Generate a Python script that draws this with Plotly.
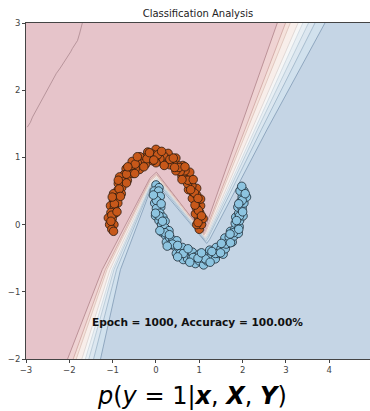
import plotly.graph_objects as go

# ---------------- data ----------------
# class 1 (orange, upper moon)
orange_x = [1.00, 1.05, 0.94, 0.98, 1.09, 1.01, 0.91, 1.03, 0.93, 0.93, 1.03, 0.84, 0.94,
            0.94, 0.84, 0.83, 0.75, 0.81, 0.73, 0.71, 0.78, 0.60, 0.67, 0.62, 0.56, 0.51,
            0.46, 0.46, 0.41, 0.32, 0.36, 0.28, 0.26, 0.16, 0.18, 0.09, 0.09, 0.00, 0.00,
            0.00, -0.09, -0.08, -0.19, -0.17, -0.24, -0.27, -0.37, -0.33, -0.43, -0.38,
            -0.55, -0.48, -0.59, -0.53, -0.69, -0.63, -0.66, -0.74, -0.84, -0.77, -0.79,
            -0.87, -0.88, -0.80, -0.98, -0.88, -0.98, -0.88, -1.05, -0.96, -0.94, -1.04,
            -1.01, -1.10, -0.97, -1.07, -1.02, -0.98,
            0.98, 0.89, 0.74, 0.53, 0.32, 0.04, -0.21, -0.48, -0.68, -0.85, -0.96, -1.02,
            0.97, 1.05, 0.90, 0.97, 0.80, 0.86, 0.60, 0.67, 0.43, 0.40, 0.19, 0.13,
            -0.05, -0.15, -0.28, -0.43, -0.49, -0.65, -0.68, -0.87, -0.82, -1.01, -0.90, -1.04]
orange_y = [-0.07, 0.00, 0.00, 0.09, 0.09, 0.18, 0.16, 0.28, 0.25, 0.34, 0.38, 0.39, 0.44,
            0.54, 0.49, 0.58, 0.52, 0.68, 0.61, 0.71, 0.78, 0.72, 0.80, 0.88, 0.79, 0.88,
            0.80, 0.99, 0.89, 0.89, 0.99, 1.06, 0.97, 0.92, 1.02, 1.08, 0.98, 1.12, 1.01,
            0.92, 1.05, 0.95, 1.08, 0.98, 0.90, 0.99, 1.01, 0.91, 0.92, 0.82,
            0.94, 0.83, 0.84, 0.76, 0.83, 0.75, 0.66, 0.74, 0.71, 0.64, 0.55,
            0.61, 0.51, 0.46, 0.46, 0.41, 0.36, 0.32, 0.28, 0.26, 0.17, 0.18,
            0.09, 0.10, 0.00, 0.00, -0.07, -0.10,
            0.21, 0.47, 0.66, 0.85, 0.97, 1.04, 0.98, 0.90, 0.75, 0.53, 0.31, 0.14,
            0.03, 0.13, 0.29, 0.39, 0.52, 0.67, 0.67, 0.86, 0.85, 0.99, 0.88, 1.09,
            0.96, 1.07, 0.86, 1.01, 0.76, 0.86, 0.62, 0.66, 0.42, 0.41, 0.19, 0.05]

# class 0 (blue, lower moon)
blue_x = [0.00, 0.07, -0.04, 0.06, 0.02, 0.10, -0.03, 0.06, 0.11, 0.01, -0.01, 0.09, 0.16,
          0.07, 0.13, 0.21, 0.13, 0.21, 0.30, 0.22, 0.24, 0.31, 0.39, 0.33, 0.43, 0.48,
          0.47, 0.52, 0.61, 0.56, 0.63, 0.66, 0.75, 0.73, 0.82, 0.84, 0.91, 0.91, 1.00,
          1.00, 1.10, 1.09, 1.17, 1.18, 1.26, 1.24, 1.37, 1.33, 1.39, 1.44, 1.55, 1.50,
          1.55, 1.60, 1.66, 1.59, 1.76, 1.69, 1.72, 1.80, 1.82, 1.90, 1.83, 1.92, 1.93,
          1.84, 2.01, 1.91, 1.89, 1.99, 2.03, 1.94, 1.99, 2.09, 2.03, 1.94, 1.98,
          0.01, 0.07, 0.21, 0.38, 0.63, 0.86, 1.14, 1.37, 1.62, 1.79, 1.93, 1.99,
          -0.06, 0.12, -0.01, 0.15, 0.09, 0.31, 0.26, 0.50, 0.50, 0.74, 0.78, 0.97,
          1.05, 1.25, 1.29, 1.49, 1.51, 1.72, 1.71, 1.91, 1.86, 2.00, 1.91, 2.06]
blue_y = [0.59, 0.55, 0.50, 0.50, 0.41, 0.42, 0.32, 0.33, 0.26, 0.24, 0.13, 0.17, 0.11,
          0.06, 0.00, 0.05, -0.11, -0.05, -0.09, -0.16, -0.26, -0.19, -0.23, -0.30, -0.32,
          -0.24, -0.43, -0.34, -0.34, -0.43, -0.52, -0.43, -0.42, -0.51, -0.50, -0.41,
          -0.58, -0.48, -0.44, -0.54, -0.60, -0.50, -0.45, -0.54, -0.48, -0.38, -0.51,
          -0.41, -0.34, -0.43, -0.44, -0.36, -0.28, -0.36, -0.28, -0.20, -0.26, -0.19,
          -0.10, -0.17, -0.07, -0.13, 0.02, -0.03, 0.06, 0.11, 0.13, 0.17, 0.26, 0.24,
          0.32, 0.33, 0.41, 0.41, 0.50, 0.50, 0.57,
          0.36, 0.13, -0.12, -0.29, -0.43, -0.49, -0.51, -0.43, -0.29, -0.12, 0.13, 0.36,
          0.44, 0.31, 0.17, 0.05, -0.09, -0.15, -0.32, -0.31, -0.48, -0.36, -0.56, -0.50,
          -0.42, -0.56, -0.40, -0.42, -0.28, -0.27, -0.14, -0.07, 0.06, 0.19, 0.31, 0.46]

# decision-surface level lines (red edge -> blue edge)
contour_x = [
    [-2.04, -1.24, -0.14, 0.01, 0.14, 1.06, 1.09, 1.12, 1.94, 2.80],
    [-1.91, -1.17, -0.14, 0.01, 0.15, 1.07, 1.10, 1.14, 2.05, 2.99],
    [-1.84, -1.13, -0.14, 0.02, 0.15, 1.07, 1.11, 1.15, 2.11, 3.10],
    [-1.71, -1.06, -0.14, 0.02, 0.16, 1.08, 1.13, 1.17, 2.21, 3.28],
    [-1.63, -1.01, -0.13, 0.02, 0.17, 1.08, 1.13, 1.18, 2.28, 3.39],
    [-1.55, -0.97, -0.13, 0.02, 0.17, 1.09, 1.14, 1.20, 2.34, 3.52],
    [-1.44, -0.91, -0.13, 0.03, 0.18, 1.09, 1.15, 1.21, 2.43, 3.67],
    [-1.28, -0.82, -0.13, 0.03, 0.19, 1.10, 1.17, 1.24, 2.56, 3.90],
]
contour_y = [
    [-2, -0.67, 0.69, 0.78, 0.67, -0.08, -0.12, -0.08, 1.41, 3],
    [-2, -0.67, 0.66, 0.75, 0.64, -0.10, -0.15, -0.10, 1.41, 3],
    [-2, -0.67, 0.64, 0.73, 0.62, -0.12, -0.16, -0.12, 1.41, 3],
    [-2, -0.67, 0.61, 0.70, 0.59, -0.14, -0.19, -0.14, 1.41, 3],
    [-2, -0.67, 0.59, 0.68, 0.57, -0.16, -0.21, -0.16, 1.41, 3],
    [-2, -0.67, 0.57, 0.66, 0.55, -0.17, -0.22, -0.17, 1.41, 3],
    [-2, -0.67, 0.55, 0.64, 0.52, -0.19, -0.25, -0.19, 1.41, 3],
    [-2, -0.67, 0.51, 0.60, 0.48, -0.22, -0.28, -0.22, 1.41, 3],
]
# stray high-probability contour in the upper-left corner
stray_x = [-2.97, -2.90, -2.85, -2.74, -2.62, -2.52, -2.39, -2.30, -2.21, -2.12, -2.04,
           -1.97, -1.93, -1.86, -1.81, -1.76, -1.70]
stray_y = [1.45, 1.52, 1.60, 1.73, 1.88, 2.00, 2.15, 2.25, 2.33, 2.42, 2.48,
           2.57, 2.62, 2.69, 2.74, 2.85, 3.00]

x_ticks = [-3, -2, -1, 0, 1, 2, 3, 4]
y_ticks = [-2, -1, 0, 1, 2, 3]
x_range = [-3, 4.94]
y_range = [-2, 3]
title_text = "Classification Analysis"
epoch_text = "Epoch = 1000, Accuracy = 100.00%"

# ---------------- styles ----------------
band_colors = ["#E6C4CA", "#EFD3D3", "#F5E2DC", "#F8EEEA", "#F6F6F6",
               "#E8EFF4", "#DCE7F0", "#D1E1ED", "#C5D5E5"]
line_colors = ["#A87880", "#C99C98", "#D9BBB2", "#D8CFCB", "#C9D2DB",
               "#AEC1D0", "#94ACC2", "#7590AE"]

fig = go.Figure()

# filled bands: paint from blue side towards red side
for k in range(len(contour_x) - 1, -1, -1):
    px = contour_x[k] + [x_range[0], x_range[0]]
    py = contour_y[k] + [y_range[1], y_range[0]]
    fig.add_trace(go.Scatter(x=px, y=py, mode="lines", fill="toself",
                             fillcolor=band_colors[k], line=dict(width=0),
                             hoverinfo="skip", showlegend=False))

for k in range(len(contour_x)):
    fig.add_trace(go.Scatter(x=contour_x[k], y=contour_y[k], mode="lines",
                             line=dict(color=line_colors[k], width=0.7),
                             hoverinfo="skip", showlegend=False))

fig.add_trace(go.Scatter(x=stray_x, y=stray_y, mode="lines",
                         line=dict(color="#A47F86", width=0.7),
                         hoverinfo="skip", showlegend=False))

fig.add_trace(go.Scatter(x=orange_x, y=orange_y, mode="markers",
                         marker=dict(size=8.5, color="#C7581A",
                                     line=dict(color="#2a1a10", width=0.8)),
                         showlegend=False))
fig.add_trace(go.Scatter(x=blue_x, y=blue_y, mode="markers",
                         marker=dict(size=8.5, color="#8DC4E0",
                                     line=dict(color="#1c2a33", width=0.8)),
                         showlegend=False))

fig.add_annotation(x=0.96, y=-1.45, xref="x", yref="y", text="<b>" + epoch_text + "</b>",
                   showarrow=False, font=dict(family="DejaVu Sans", size=10.6, color="#111"))

fig.add_annotation(x=0.483, y=-0.11, xref="paper", yref="paper",
                   xanchor="center", yanchor="middle", showarrow=False,
                   text="<i>p</i>(<i>y</i> = 1|<b><i>x</i></b>, <b><i>X</i></b>, <b><i>Y</i></b>)",
                   font=dict(family="DejaVu Sans", size=24, color="#000"))

fig.update_layout(
    width=370, height=411,
    margin=dict(l=26, r=0, t=23, b=52, autoexpand=False),
    paper_bgcolor="white",
    plot_bgcolor=band_colors[-1],
    title=dict(text=title_text, x=0.535, xanchor="center", y=0.968, yanchor="middle",
               font=dict(family="DejaVu Sans", size=10, color="#222")),
    xaxis=dict(range=x_range, tickvals=x_ticks, ticks="outside", ticklen=3,
               tickcolor="#444", showgrid=False, zeroline=False, showline=True,
               linecolor="#444", linewidth=1, mirror=True, automargin=False,
               tickfont=dict(family="DejaVu Sans", size=8.5, color="#444")),
    yaxis=dict(range=y_range, tickvals=y_ticks, ticks="outside", ticklen=3,
               tickcolor="#444", showgrid=False, zeroline=False, showline=True,
               linecolor="#444", linewidth=1, automargin=False,
               tickfont=dict(family="DejaVu Sans", size=8.5, color="#444")),
)

fig.write_html("out.html", config={"displayModeBar": False},
               post_script="document.body.style.margin='0';"
                           "document.body.style.overflow='hidden';")
